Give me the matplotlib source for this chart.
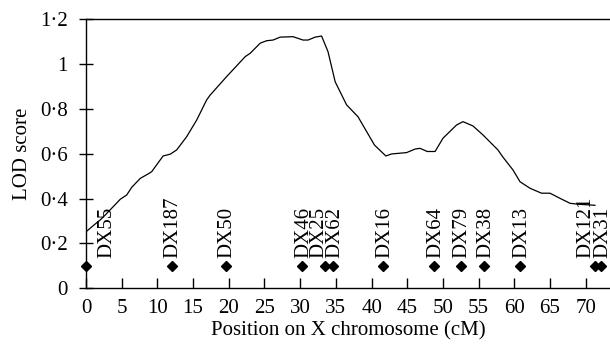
import numpy as np
import matplotlib
matplotlib.use("Agg")
import matplotlib.pyplot as plt
from matplotlib.ticker import FuncFormatter

# LOD curve
pos = [0, 1.3, 2.0, 2.7, 3.6, 4.8, 5.7, 6.4, 7.6, 8.7, 9.2, 10.8, 11.8, 12.7,
       14.1, 15.5, 16.9, 17.4, 19.7, 22.3, 23.0, 24.4, 25.3, 26.2, 27.2, 29.0,
       30.4, 31.1, 32.1, 33.0, 33.9, 34.9, 36.5, 38.1, 40.4, 42.0, 42.8, 44.9,
       46.1, 46.8, 47.8, 48.9, 50.0, 51.9, 52.8, 54.2, 55.6, 57.7, 58.4, 59.8,
       60.8, 62.2, 63.8, 65.0, 66.4, 67.8, 68.9, 71.3]
lod = [0.252, 0.287, 0.305, 0.327, 0.357, 0.397, 0.416, 0.45, 0.49, 0.51, 0.52,
       0.59, 0.598, 0.617, 0.676, 0.75, 0.84, 0.862, 0.944, 1.033, 1.048, 1.093,
       1.104, 1.107, 1.12, 1.122, 1.107, 1.107, 1.12, 1.125, 1.055, 0.921, 0.818,
       0.765, 0.639, 0.59, 0.599, 0.605, 0.621, 0.624, 0.61, 0.61, 0.669, 0.728,
       0.743, 0.724, 0.684, 0.617, 0.585, 0.528, 0.475, 0.446, 0.424, 0.424,
       0.401, 0.379, 0.375, 0.37]

# marker loci
markers = ["DX55", "DX187", "DX50", "DX46", "DX25", "DX62", "DX16", "DX64",
           "DX79", "DX38", "DX13", "DX121", "DX31"]
marker_pos = [0, 12.0, 19.6, 30.3, 33.5, 34.6, 41.6, 48.8, 52.5, 55.8, 60.8,
              71.3, 72.2]
marker_y = 0.1

# labels that were nudged sideways in the original
label_shift = {"DX55": 2.9, "DX25": -0.9, "DX121": -1.3}

plt.rcParams['font.family'] = ['Liberation Serif', 'DejaVu Serif']
fs = 15

fig = plt.figure(figsize=(6.1, 3.49), dpi=100)
ax = fig.add_axes([0.141, 0.174, 0.859, 0.771])

ax.plot(pos, lod, color='black', lw=0.9)
ax.plot(marker_pos, [marker_y] * len(marker_pos), 'D', color='black',
        markersize=5.5, clip_on=False)

for name, xp in zip(markers, marker_pos):
    ax.text(xp + label_shift.get(name, 0.2), 0.135, name, rotation=90,
            ha='center', va='bottom', fontsize=fs)

ax.set_xlim(0, 73.4)
ax.set_ylim(0, 1.2)
ax.set_xticks(np.arange(0, 71, 5))
ax.set_yticks(np.arange(0, 1.21, 0.2))

def dotfmt(v, p):
    s = "%g" % round(v, 1)
    return s.replace(".", "\u00b7")

ax.yaxis.set_major_formatter(FuncFormatter(dotfmt))
ax.tick_params(axis='x', direction='in', length=7, width=1, pad=8, labelsize=fs)
ax.tick_params(axis='y', direction='inout', length=10, width=1, pad=8, labelsize=fs)

ax.spines['right'].set_visible(False)
for s in ['left', 'bottom', 'top']:
    ax.spines[s].set_linewidth(1.0)

ax.set_xlabel("Position on X chromosome (cM)", fontsize=fs, labelpad=2)
ax.set_ylabel("LOD score", fontsize=fs, labelpad=6)

fig.savefig("out.png", dpi=100)
